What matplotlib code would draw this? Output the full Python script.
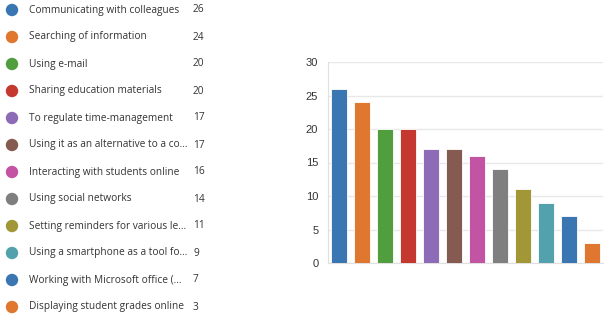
import matplotlib
matplotlib.use('Agg')
import matplotlib.pyplot as plt

labels = [
    "Communicating with colleagues",
    "Searching of information",
    "Using e-mail",
    "Sharing education materials",
    "To regulate time-management",
    "Using it as an alternative to a co...",
    "Interacting with students online",
    "Using social networks",
    "Setting reminders for various le...",
    "Using a smartphone as a tool fo...",
    "Working with Microsoft office (...",
    "Displaying student grades online",
]
counts = [26, 24, 20, 20, 17, 17, 16, 14, 11, 9, 7, 3]
colors = ['#3a77b2', '#df7730', '#519e3e', '#c5382f', '#8d6bb7', '#855a50',
          '#c353a3', '#7f7f7f', '#a19736', '#52a1ad', '#3a77b2', '#df7730']

plt.rcParams['font.family'] = ['Open Sans', 'DejaVu Sans']

W, H = 609, 318
f = plt.figure(figsize=(W / 100, H / 100), dpi=100)

# legend on the left, in pixel coords
lg = f.add_axes([0, 0, 1, 1])
lg.set_xlim(0, W)
lg.set_ylim(H, 0)
lg.axis('off')
for i, (lab, n, c) in enumerate(zip(labels, counts, colors)):
    y = 10 + i * 27
    lg.scatter([12], [y], s=80, color=c, edgecolors='none')
    lg.text(29, y, lab, va='center', ha='left', fontsize=7.3, color='#333333')
    lg.text(193, y, str(n), va='center', ha='left', fontsize=7.3, color='#333333')

ax = f.add_axes([328 / W, 1 - 263 / H, 275 / W, 201 / H])
x = range(len(counts))
ax.bar(x, counts, width=0.7, color=colors, edgecolor='white', linewidth=0.6, zorder=3)
ax.set_xlim(-0.5, 11.5)
ax.set_ylim(0, 30)
ax.set_yticks(range(0, 31, 5))
ax.set_xticks([])
ax.grid(axis='y', color='#e8e8e8', linewidth=1, zorder=0)
for s in ['top', 'right']:
    ax.spines[s].set_visible(False)
ax.spines['left'].set_color('#e0e0e0')
ax.spines['bottom'].set_color('#e0e0e0')
ax.tick_params(axis='y', length=0, labelsize=8, labelcolor='#333333', pad=7)
for t in ax.get_yticklabels():
    t.set_family('Liberation Sans')

f.savefig('out.png', dpi=100)
